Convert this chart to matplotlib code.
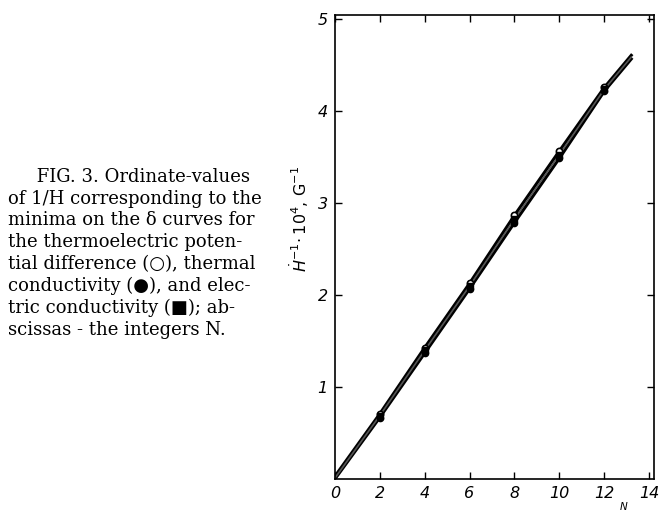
import matplotlib

matplotlib.use("Agg")
import matplotlib.pyplot as plt

# minima positions (N -> 1/H * 10^4, G^-1)
n_values = [0, 2, 4, 6, 8, 10, 12, 13.2]
thermo_emf = [0.03, 0.71, 1.43, 2.13, 2.87, 3.57, 4.26, 4.61]      # open circles
thermal_cond = [0.00, 0.67, 1.37, 2.07, 2.79, 3.49, 4.22, 4.57]    # filled circles
electric_cond = [0.01, 0.69, 1.40, 2.10, 2.83, 3.53, 4.24, 4.59]   # squares

x_ticks = [0, 2, 4, 6, 8, 10, 12, 14]
y_ticks = [1, 2, 3, 4, 5]

caption_lines = [
    "     FIG. 3. Ordinate-values",
    "of 1/H corresponding to the",
    "minima on the \u03b4 curves for",
    "the thermoelectric poten-",
    "tial difference (\u25cb), thermal",
    "conductivity (\u25cf), and elec-",
    "tric conductivity (\u25a0); ab-",
    "scissas - the integers N.",
]

fig = plt.figure(figsize=(6.59, 5.12), dpi=100)
ax = fig.add_axes([0.508, 0.064, 0.484, 0.907])

ax.plot(n_values, thermo_emf, color="black", linewidth=2.2)
ax.plot(n_values, thermal_cond, color="black", linewidth=2.2)
ax.plot(n_values, electric_cond, color="#555555", linewidth=1.2)

pts = slice(1, 7)
ax.plot(n_values[pts], thermo_emf[pts], "o", mfc="white", mec="black", ms=4.5, mew=1.2)
ax.plot(n_values[pts], thermal_cond[pts], "o", color="black", ms=4.5)
ax.plot(n_values[pts], electric_cond[pts], "s", color="black", ms=4)

ax.set_xlim(0, 14.2)
ax.set_ylim(0, 5.05)
ax.set_xticks(x_ticks)
ax.set_yticks(y_ticks)
ax.set_xticklabels([str(v) for v in x_ticks], style="italic", fontsize=11.5)
ax.set_yticklabels([str(v) for v in y_ticks], style="italic", fontsize=11.5)
ax.tick_params(direction="in", top=True, right=True, length=5, width=1, pad=5)
for side in ax.spines.values():
    side.set_linewidth(1.2)

ax.set_ylabel(r"$\dot{H}^{-1}\!\cdot 10^4$, G$^{-1}$", fontsize=11.5)
ax.yaxis.set_label_coords(-0.075, 0.56)
ax.text(0.905, -0.05, "N", transform=ax.transAxes, ha="center", va="top",
        fontsize=7.5, style="italic")

fig.text(0.012, 0.672, "\n".join(caption_lines), ha="left", va="top",
         fontsize=13, linespacing=1.27,
         family=["DejaVu Serif", "DejaVu Sans"])

fig.savefig("out.png", dpi=100)
